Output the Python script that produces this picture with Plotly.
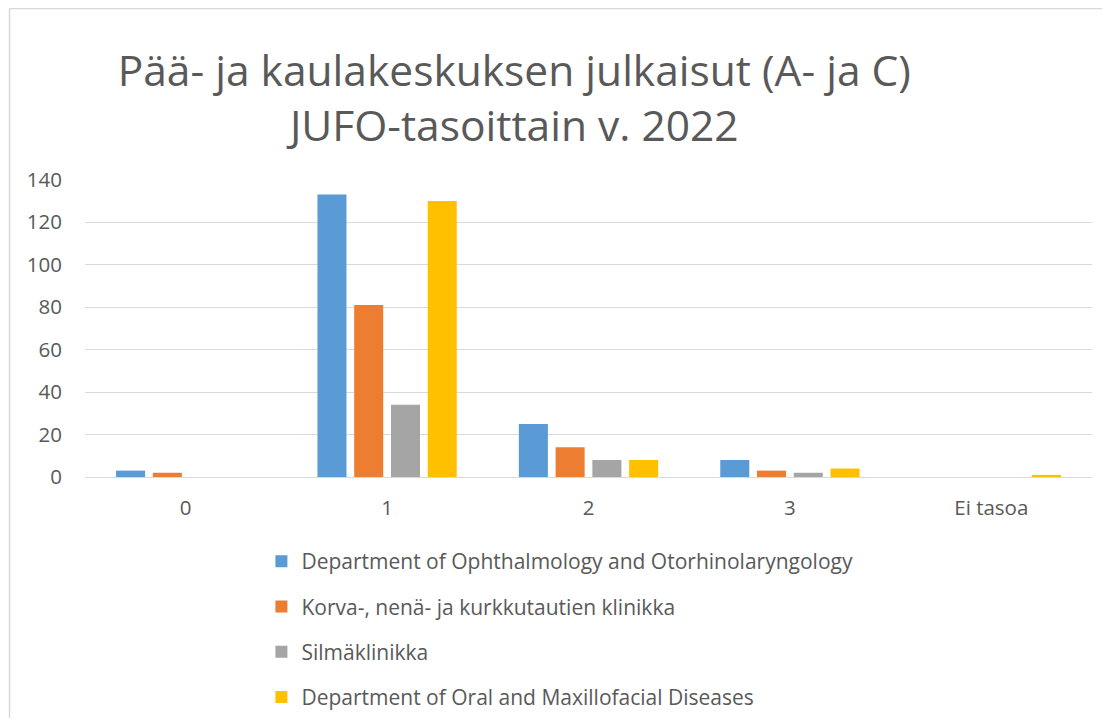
import plotly.graph_objects as go

categories = ["0", "1", "2", "3", "Ei tasoa"]
series_names = [
    "Department of Ophthalmology and Otorhinolaryngology",
    "Korva-, nenä- ja kurkkutautien klinikka",
    "Silmäklinikka",
    "Department of Oral and Maxillofacial Diseases",
]
ophthalmology_oto = [3, 133, 25, 8, 0]
korva_nena_kurkku = [2, 81, 14, 3, 0]
silmaklinikka = [0, 34, 8, 2, 0]
oral_maxillofacial = [0, 130, 8, 4, 1]
colors = ["#5B9BD5", "#ED7D31", "#A5A5A5", "#FFC000"]
y_ticks = [0, 20, 40, 60, 80, 100, 120, 140]

series_values = [ophthalmology_oto, korva_nena_kurkku, silmaklinikka, oral_maxillofacial]

# page is rendered with an 8px body margin; work in page pixels and convert
OFF = 8
W, H = 1094, 710
ml = 84.5 - OFF
mt = 179 - OFF
plot_right = 1092 - OFF
plot_bottom = 477 - OFF
mr = W - plot_right
mb = H - plot_bottom
pw = W - ml - mr
ph = H - mt - mb

def px_x(p):
    return (p - OFF - ml) / pw

def px_y(p):
    return (plot_bottom - (p - OFF)) / ph

fig = go.Figure()
for i, (name, vals, c) in enumerate(zip(series_names, series_values, colors)):
    fig.add_trace(go.Bar(
        x=categories, y=vals, name=name,
        marker=dict(color=c, line=dict(width=0)),
        legendgroup=f"g{i}",
    ))

font_color = "#595959"
fam = "Open Sans"

fig.update_layout(
    width=W, height=H,
    margin=dict(l=ml, r=mr, t=mt, b=mb, autoexpand=False),
    paper_bgcolor="white", plot_bgcolor="white",
    barmode="group", bargap=0.27, bargroupgap=0.21,
    font=dict(family=fam, color=font_color, size=20.5),
    title=dict(
        text="Pää- ja kaulakeskuksen julkaisut (A- ja C)<br>JUFO-tasoittain v. 2022",
        x=px_x(514), xref="paper", xanchor="center",
        y=1 - (98 - 12 - OFF) / H, yref="container", yanchor="middle",
        font=dict(family=fam, size=42.5, color=font_color),
    ),
    xaxis=dict(
        type="category", showgrid=False, zeroline=False, showline=False,
        ticks="", tickfont=dict(size=20.5, color=font_color),
        ticklabelstandoff=16,
    ),
    yaxis=dict(
        range=[0, 140.3], tickvals=y_ticks, showgrid=True,
        gridcolor="#D9D9D9", gridwidth=1.3,
        zeroline=True, zerolinecolor="#D9D9D9", zerolinewidth=1.3,
        showline=False, ticks="", ticklabelstandoff=22,
        tickfont=dict(size=20.5, color=font_color),
    ),
    legend=dict(
        orientation="v", x=px_x(261), xanchor="left",
        y=px_y(541), yanchor="top",
        font=dict(size=21, color=font_color, family=fam),
        tracegroupgap=15, bgcolor="rgba(0,0,0,0)",
    ),
    showlegend=True,
)

# outer chart frame (cropped Excel chart border)
fig.add_shape(type="line", xref="paper", yref="paper",
              x0=px_x(OFF + 1), x1=px_x(OFF + 1), y0=px_y(8.5), y1=px_y(740),
              line=dict(color="#D9D9D9", width=1.5))
fig.add_shape(type="line", xref="paper", yref="paper",
              x0=px_x(OFF + 1), x1=px_x(1120), y0=px_y(8.5), y1=px_y(8.5),
              line=dict(color="#D9D9D9", width=1.5))

fig.write_html("out.html")
